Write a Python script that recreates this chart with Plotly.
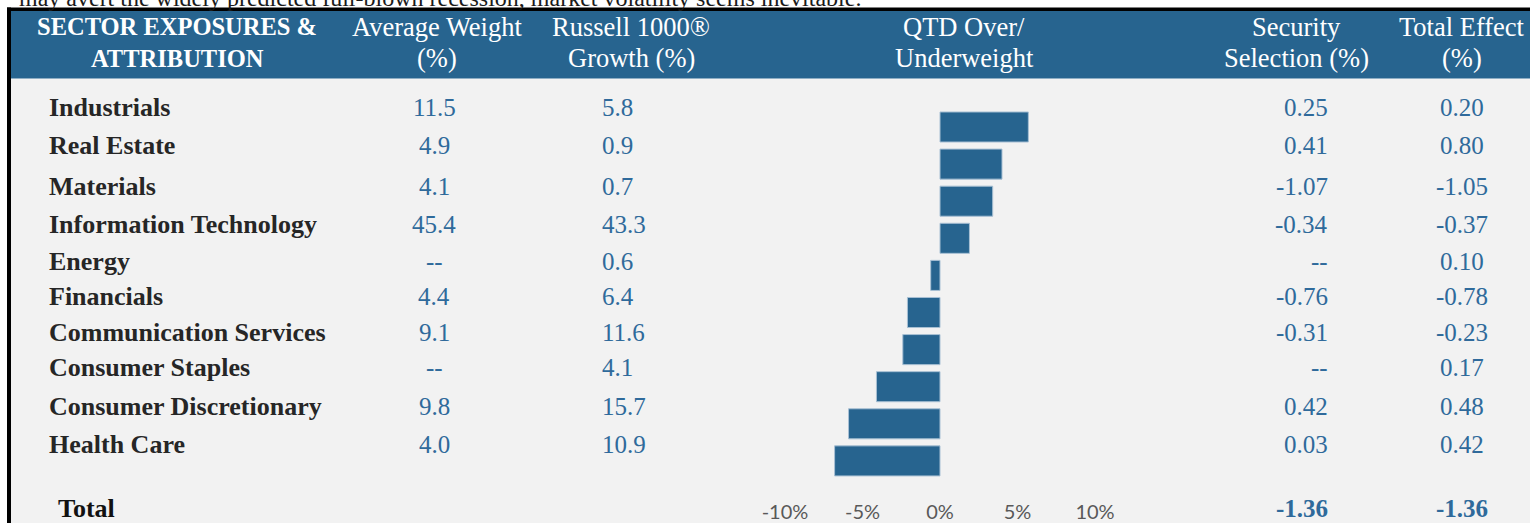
import plotly.graph_objects as go

W, H = 1530, 523

# ---------------- data ----------------
sectors = ["Industrials", "Real Estate", "Materials", "Information Technology", "Energy",
           "Financials", "Communication Services", "Consumer Staples",
           "Consumer Discretionary", "Health Care"]
avg_weight = ["11.5", "4.9", "4.1", "45.4", "--", "4.4", "9.1", "--", "9.8", "4.0"]
russell_growth = ["5.8", "0.9", "0.7", "43.3", "0.6", "6.4", "11.6", "4.1", "15.7", "10.9"]
security_selection = ["0.25", "0.41", "-1.07", "-0.34", "--", "-0.76", "-0.31", "--", "0.42", "0.03"]
total_effect = ["0.20", "0.80", "-1.05", "-0.37", "0.10", "-0.78", "-0.23", "0.17", "0.48", "0.42"]
over_under = [5.7, 4.0, 3.4, 1.9, -0.6, -2.1, -2.4, -4.1, -5.9, -6.8]
total_label = "Total"
total_security = "-1.36"
total_total = "-1.36"
tick_vals = [-10, -5, 0, 5, 10]
tick_text = ["-10%", "-5%", "0%", "5%", "10%"]
headers = [("SECTOR EXPOSURES &", "ATTRIBUTION"), ("Average Weight", "(%)"),
           ("Russell 1000®", "Growth (%)"), ("QTD Over/", "Underweight"),
           ("Security", "Selection (%)"), ("Total Effect", "(%)")]
intro_text = "may avert the widely predicted full-blown recession, market volatility seems inevitable."

# ---------------- layout helpers ----------------
row_y = [108, 145, 187, 225, 261, 296, 332, 367, 406, 444]
total_y = 508
header_x = [177, 437, 631, 964, 1296, 1462]
header_line_y = [27, 58]

SERIF = "Liberation Serif"
BLUE = "#27648F"
VAL_BLUE = "#2F6A9B"
LABEL = "#262626"


def px(x):
    return x / W


def py(y):
    return 1 - y / H


annotations = []


def add(text, x, y, xanchor, color, size=25, bold=False, family=SERIF):
    annotations.append(dict(
        text=f"<b>{text}</b>" if bold else text, x=px(x), y=py(y), xref="paper", yref="paper",
        xanchor=xanchor, yanchor="middle", showarrow=False,
        font=dict(family=family, size=size, color=color)))


# intro text (cut at top, as in the source page)
add(intro_text, 17, -2, "left", "#1a1a1a", size=24)

for k, (hx, lines) in enumerate(zip(header_x, headers)):
    for ly, line in zip(header_line_y, lines):
        if k == 0:
            add(line, hx, ly, "center", "white", size=24.5, bold=True)
        else:
            add(line, hx, ly, "center", "white", size=26.5)

for i, y in enumerate(row_y):
    add(sectors[i], 47, y, "left", LABEL, size=26, bold=True)
    add(avg_weight[i], 434, y, "center", VAL_BLUE)
    add(russell_growth[i], 600, y, "left", VAL_BLUE)
    add(security_selection[i], 1330, y, "right", VAL_BLUE)
    add(total_effect[i], 1462, y, "center", VAL_BLUE)

add(total_label, 56, total_y, "left", "#111111", size=26, bold=True)
add(total_security, 1330, total_y, "right", VAL_BLUE, bold=True)
add(total_total, 1462, total_y, "center", VAL_BLUE, bold=True)

shapes = [
    dict(type="rect", xref="paper", yref="paper", x0=px(11), x1=px(W + 5), y0=py(H + 5), y1=py(78.5),
         fillcolor="#F2F2F2", line=dict(width=0), layer="below"),
    dict(type="rect", xref="paper", yref="paper", x0=px(11), x1=px(W + 5), y0=py(78.5), y1=py(11),
         fillcolor=BLUE, line=dict(width=0), layer="below"),
    dict(type="rect", xref="paper", yref="paper", x0=px(7), x1=px(W + 5), y0=py(11), y1=py(7.5),
         fillcolor="black", line=dict(width=0), layer="below"),
    dict(type="rect", xref="paper", yref="paper", x0=px(7), x1=px(11), y0=py(H + 5), y1=py(7.5),
         fillcolor="black", line=dict(width=0), layer="below"),
]

fig = go.Figure(go.Bar(
    x=over_under, y=list(range(len(over_under))), orientation="h", width=0.81,
    marker=dict(color=BLUE, line=dict(color="#A8C0D4", width=1)),
    hoverinfo="skip"))

x_left, x_right, zero_px, unit_px = 760, 1120, 940, 15.5
fig.update_layout(
    width=W, height=H, margin=dict(l=0, r=0, t=0, b=0),
    paper_bgcolor="white", plot_bgcolor="rgba(0,0,0,0)", showlegend=False,
    xaxis=dict(domain=[px(x_left), px(x_right)],
               range=[(x_left - zero_px) / unit_px, (x_right - zero_px) / unit_px],
               tickvals=tick_vals, ticktext=tick_text, showgrid=False, zeroline=False,
               showline=False, ticks="", fixedrange=True,
               tickfont=dict(family="Lato", size=20, color="#595959")),
    yaxis=dict(domain=[py(498), py(108.45)], range=[10.0, -0.5], visible=False,
               fixedrange=True),
    shapes=shapes, annotations=annotations,
)

fig.write_html("out.html", config={"displayModeBar": False},
               post_script="document.body.style.margin='0';document.body.style.overflow='hidden';")
